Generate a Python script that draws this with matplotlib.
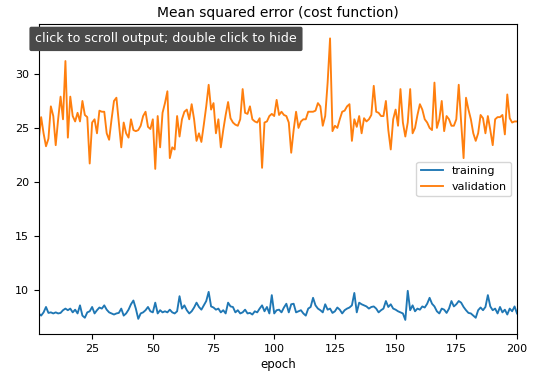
import numpy as np
import matplotlib
matplotlib.use("Agg")
import matplotlib.pyplot as plt

# epochs shown on the x axis
epochs = np.arange(3, 201)

# validation MSE
validation = [
    23.9, 26.0, 24.5, 23.3, 24.0, 27.0, 26.1, 23.4, 25.8, 27.9,
    25.8, 31.2, 24.1, 27.9, 26.1, 25.6, 26.4, 25.6, 27.5, 26.2,
    26.0, 21.7, 25.5, 25.8, 24.5, 26.6, 26.5, 26.5, 24.5, 23.9,
    25.8, 27.5, 27.8, 25.5, 23.2, 25.5, 24.5, 24.1, 25.8, 24.8,
    24.7, 24.8, 25.2, 26.1, 26.5, 25.1, 24.9, 25.8, 21.2, 26.1,
    23.2, 26.4, 27.3, 28.4, 22.2, 23.2, 23.0, 26.1, 24.2, 25.8,
    26.5, 26.7, 25.8, 27.2, 25.8, 23.8, 24.5, 23.7, 25.3, 27.0,
    29.0, 26.7, 27.3, 24.5, 25.8, 23.2, 24.8, 26.2, 27.4, 25.9,
    25.5, 25.3, 25.2, 25.8, 28.6, 26.4, 26.3, 27.0, 25.8, 25.6,
    25.5, 25.9, 21.3, 25.5, 25.6, 26.1, 26.3, 26.1, 27.6,
    26.2, 26.5, 26.2, 26.1, 25.5, 22.7, 24.8, 26.5, 25.0, 25.6,
    25.8, 25.8, 26.5, 26.5, 26.5, 26.6, 27.3, 27.0, 25.2, 26.1,
    29.2, 33.3, 24.7, 25.2, 25.0, 25.8, 26.5, 26.6, 27.0, 27.2,
    23.8, 25.8, 25.1, 26.1, 24.5, 25.9, 25.6, 25.8, 26.2, 28.9,
    26.5, 26.4, 26.1, 26.1, 27.5, 24.8, 23.0, 25.8, 26.7, 25.2,
    28.6, 25.5, 24.2, 25.5, 28.6, 24.5, 25.0, 26.2, 27.2, 26.7,
    25.8, 25.5, 25.0, 24.8, 29.2, 25.0, 25.8, 27.5, 24.7, 26.1,
    25.8, 25.2, 25.2, 25.8, 29.0, 25.5, 22.2, 27.8, 26.7, 25.8,
    24.5, 23.8, 24.5, 26.2, 25.9, 24.5, 26.1, 24.8, 23.4, 25.8,
    26.0, 26.0, 26.2, 24.4, 28.1, 25.9, 25.5, 25.6, 25.6,
]

# training MSE
training = [
    7.8, 7.6, 7.9, 8.4, 7.85, 7.9, 7.8, 7.9, 7.8,
    7.85, 8.1, 8.25, 8.1, 8.25, 7.9, 8.15, 7.8, 8.55, 7.6,
    7.4, 7.9, 8.0, 8.4, 7.8, 8.1, 8.35, 8.25, 8.55, 8.15,
    7.9, 7.8, 7.7, 7.8, 7.85, 8.25, 7.6, 7.8, 8.15, 8.65,
    9.0, 8.25, 7.3, 7.8, 7.9, 8.1, 8.4, 8.0, 7.9, 8.8,
    7.8, 8.1, 7.9, 8.0, 7.9, 8.15, 7.9, 7.8, 8.0, 9.4,
    8.25, 8.55, 8.1, 7.8, 8.0, 8.35, 8.8, 8.4, 8.15, 8.55,
    8.95, 9.8, 8.45, 8.35, 8.15, 8.25, 7.9, 8.1, 7.8, 8.8,
    8.45, 8.4, 7.9, 8.1, 7.8, 7.9, 8.15, 7.8, 7.85, 7.7,
    8.0, 7.9, 8.25, 8.55, 8.0, 8.4, 7.8, 9.5, 7.8, 8.1,
    8.15, 7.9, 8.35, 8.7, 7.9, 8.65, 8.7, 7.9,
    8.0, 8.1, 7.8, 7.6, 8.25, 8.4, 9.25, 8.55, 8.25, 8.1,
    7.9, 8.65, 8.15, 8.25, 7.85, 8.0, 8.35, 8.15, 7.8, 8.1,
    8.25, 8.35, 8.55, 9.7, 7.9, 8.8, 8.65, 8.55, 8.45, 8.25,
    8.4, 8.45, 8.25, 7.9, 8.1, 8.25, 8.95, 8.4, 8.65, 8.25,
    8.15, 8.0, 7.9, 7.8, 7.2, 9.9, 8.1, 8.55, 8.0, 8.25,
    8.15, 8.45, 8.35, 8.7, 9.25, 8.7, 8.45, 8.0, 7.8,
    8.25, 8.15, 7.85, 8.25, 8.95, 8.45, 8.65, 8.95, 8.8,
    8.4, 8.1, 7.85, 7.8, 7.6, 7.4, 8.1, 8.35, 8.1, 8.4,
    9.5, 8.45, 8.1, 8.25, 7.8, 8.4, 7.9, 8.15, 7.7, 8.25,
    8.0, 8.45, 7.8,
]

fig = plt.figure(figsize=(5.4, 3.89), dpi=100)
ax = fig.add_axes([0.0717, 0.1414, 0.8857, 0.7961])

ax.plot(epochs, training, color="tab:blue", lw=1.35, label="training")
ax.plot(epochs, validation, color="tab:orange", lw=1.35, label="validation")
ax.set_xlim(3, 200)
ax.set_xticks([25, 50, 75, 100, 125, 150, 175, 200])
ax.set_yticks([10, 15, 20, 25, 30])
ax.tick_params(labelsize=8, length=3.5, width=0.8)
ax.set_xlabel("epoch", fontsize=8.5, labelpad=3)
ax.set_title("Mean squared error (cost function)", fontsize=10, pad=5)
ax.legend(loc="center right", fontsize=8)

# jupyter tooltip that sits over the top-left of the plot
fig.text(0.065, 0.9, "click to scroll output; double click to hide",
         fontsize=9.1, color="white", va="center", ha="left",
         bbox=dict(boxstyle="round,pad=0.45,rounding_size=0.15",
                   fc="#4a4a4a", ec="none"))

fig.savefig("out.png", dpi=100)
